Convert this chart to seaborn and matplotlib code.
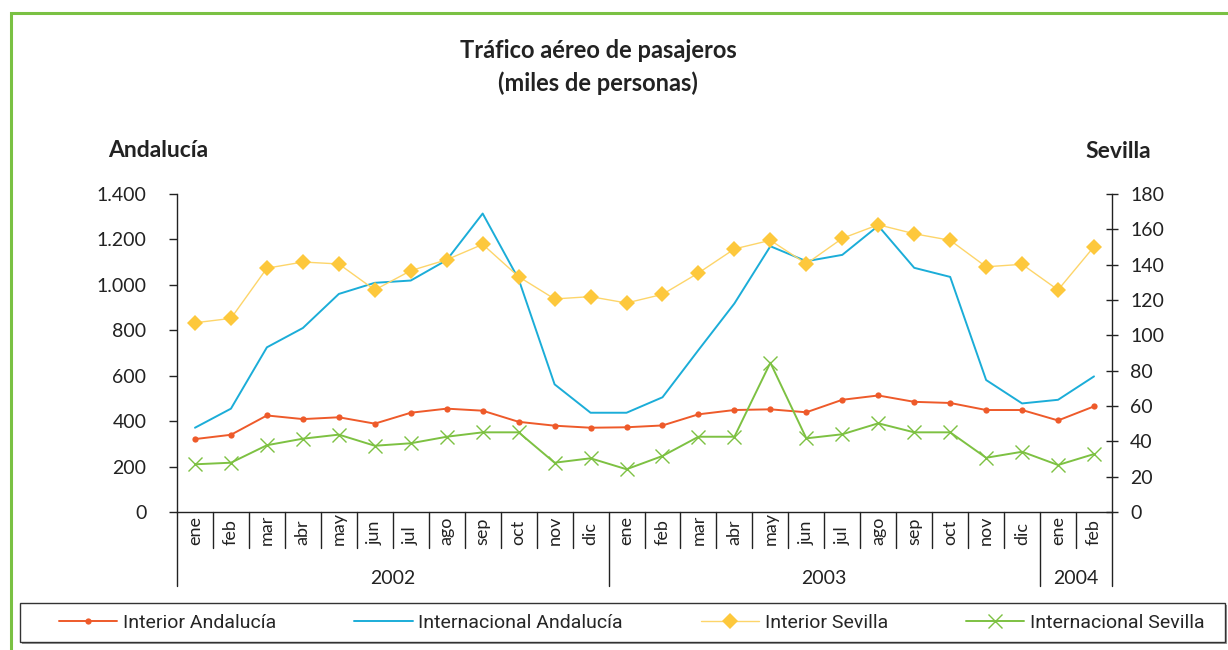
import numpy as np
import pandas as pd
import matplotlib
matplotlib.use('Agg')
import matplotlib.pyplot as plt
import seaborn as sns
from matplotlib.patches import Rectangle
from matplotlib.lines import Line2D
from matplotlib.transforms import blended_transform_factory

## data
meses = ['ene', 'feb', 'mar', 'abr', 'may', 'jun', 'jul', 'ago', 'sep', 'oct', 'nov', 'dic',
         'ene', 'feb', 'mar', 'abr', 'may', 'jun', 'jul', 'ago', 'sep', 'oct', 'nov', 'dic',
         'ene', 'feb']
anios = ['2002', '2003', '2004']
meses_por_anio = [12, 12, 2]

# left axis (Andalucía)
interior_andalucia = [321, 340, 425, 409, 417, 389, 437, 455, 446, 397, 380, 371,
                      373, 381, 430, 449, 452, 439, 494, 513, 485, 480, 449, 449,
                      403, 465]
internacional_andalucia = [371, 455, 725, 810, 960, 1009, 1019, 1109, 1314, 1025, 562, 437,
                           437, 505, 713, 918, 1170, 1104, 1132, 1260, 1075, 1035, 581, 478,
                           494, 597]
# right axis (Sevilla)
interior_sevilla = [107.1, 109.6, 138.0, 141.5, 140.4, 125.7, 136.6, 142.8, 151.5, 133.2, 120.6, 121.9,
                    118.3, 123.2, 135.3, 148.9, 153.8, 140.5, 154.9, 162.6, 157.5, 153.8, 138.8, 140.2,
                    125.7, 150.2]
internacional_sevilla = [27.0, 27.9, 37.8, 41.5, 43.8, 37.5, 38.9, 42.6, 45.1, 45.1, 27.9, 30.4,
                         24.2, 31.7, 42.6, 42.6, 84.5, 41.7, 44.0, 50.2, 45.1, 45.1, 30.7, 34.1,
                         26.6, 32.8]

df = pd.DataFrame({
    'idx': np.arange(len(meses)),
    'mes': meses,
    'Interior Andalucía': interior_andalucia,
    'Internacional Andalucía': internacional_andalucia,
    'Interior Sevilla': interior_sevilla,
    'Internacional Sevilla': internacional_sevilla,
})

sns.set_theme(style='white')
plt.rcParams['font.family'] = ['Lato', 'DejaVu Sans']
plt.rcParams['axes.linewidth'] = 1.0

W, H = 1228, 650
fig = plt.figure(figsize=(W / 100, H / 100), dpi=100)
ax = fig.add_axes([177 / W, 1 - 512 / H, (1112 - 177) / W, (512 - 194) / H])
ax2 = ax.twinx()

c_int_and = '#ee5a2a'
c_inter_and = '#1badd8'
c_int_sev = '#fdd56a'
c_int_sev_m = '#fdc83c'
c_inter_sev = '#7dc142'

sns.lineplot(data=df, x='idx', y='Interior Andalucía', ax=ax, color=c_int_and, lw=1.4,
             marker='o', markersize=4.5, markeredgewidth=0)
sns.lineplot(data=df, x='idx', y='Internacional Andalucía', ax=ax, color=c_inter_and, lw=1.4)
sns.lineplot(data=df, x='idx', y='Interior Sevilla', ax=ax2, color=c_int_sev, lw=1.0,
             marker='D', markersize=8.5, markerfacecolor=c_int_sev_m, markeredgewidth=0)
sns.lineplot(data=df, x='idx', y='Internacional Sevilla', ax=ax2, color=c_inter_sev, lw=1.4,
             marker='x', markersize=10, markeredgewidth=1.0, markeredgecolor=c_inter_sev)

n = len(meses)
ax.set_xlim(-0.5, n - 0.5)
ax.set_ylim(0, 1400)
ax2.set_ylim(0, 180)
ax.set_xticks([])
ax2.set_xticks([])
ax.set_xlabel('')
ax.set_ylabel('')
ax2.set_ylabel('')

lt = list(range(0, 1401, 200))
ax.set_yticks(lt)
ax.set_yticklabels([f'{v:,}'.replace(',', '.') for v in lt], fontsize=14, color='#222')
rt = list(range(0, 181, 20))
ax2.set_yticks(rt)
ax2.set_yticklabels([str(v) for v in rt], fontsize=14, color='#222')
ax.tick_params(axis='y', direction='out', length=6, width=1, pad=16, colors='#222')
ax2.tick_params(axis='y', direction='inout', length=8, width=1, pad=9, colors='#222')

for s in ['top', 'right']:
    ax.spines[s].set_visible(False)
for s in ['top', 'left', 'bottom']:
    ax2.spines[s].set_visible(False)
for s in ['left', 'bottom']:
    ax.spines[s].set_color('#222')
ax2.spines['right'].set_color('#222')
ax.grid(False)
ax2.grid(False)

# category separators and labels under the axis
trans = blended_transform_factory(ax.transData, ax.transAxes)
limites = np.cumsum([0] + meses_por_anio)
for i in range(n + 1):
    x = i - 0.5
    depth = -(586 - 512) / 318 if i in limites else -(548 - 512) / 318
    ax.plot([x, x], [0, depth], transform=trans, color='#222', lw=1.0, clip_on=False)
for i, m in enumerate(meses):
    ax.text(i, -(545 - 512) / 318, m, transform=trans, rotation=90, ha='center', va='bottom',
            fontsize=13, color='#222')
for k, a in enumerate(anios):
    centro = (limites[k] + limites[k + 1] - 1) / 2
    ax.text(centro, -(578 - 512) / 318, a, transform=trans, ha='center', va='center',
            fontsize=14, color='#222')

# titles
fig.text(598 / W, 1 - 67 / H, 'Tráfico aéreo de pasajeros\n(miles de personas)', ha='center',
         va='center', fontsize=17, fontweight='bold', linespacing=1.45, color='#222')
fig.text(108 / W, 1 - 150 / H, 'Andalucía', ha='left', va='center', fontsize=16.5,
         fontweight='bold', color='#222')
fig.text(1151 / W, 1 - 152 / H, 'Sevilla', ha='right', va='center', fontsize=16.5,
         fontweight='bold', color='#222')

# legend
for a in (ax, ax2):
    if a.get_legend() is not None:
        a.get_legend().remove()
handles = [
    Line2D([], [], color=c_int_and, lw=1.4, marker='o', markersize=4.5, markeredgewidth=0),
    Line2D([], [], color=c_inter_and, lw=1.4),
    Line2D([], [], color=c_int_sev, lw=1.0, marker='D', markersize=8.5,
           markerfacecolor=c_int_sev_m, markeredgewidth=0),
    Line2D([], [], color=c_inter_sev, lw=1.4, marker='x', markersize=10, markeredgewidth=1.0),
]
labels = ['Interior Andalucía', 'Internacional Andalucía', 'Interior Sevilla', 'Internacional Sevilla']
fig.legend(handles, labels, loc='center', bbox_to_anchor=(632 / W, 1 - 623 / H), ncol=4,
           frameon=False, handlelength=3.0, handletextpad=0.3, columnspacing=4.0,
           prop={'family': ['Liberation Sans Narrow', 'Roboto', 'DejaVu Sans'], 'size': 14})

# legend box with shadow
fig.patches.append(Rectangle((22 / W, 1 - 644 / H), (1227 - 22) / W, 39 / H, transform=fig.transFigure,
                             facecolor='#999', edgecolor='none', zorder=0))
fig.patches.append(Rectangle((20 / W, 1 - 642 / H), (1225 - 20) / W, 39 / H, transform=fig.transFigure,
                             facecolor='white', edgecolor='#333', lw=1.0, zorder=0.5))

# green frame
fig.patches.append(Rectangle((11 / W, -0.1), 1.2, 1.1 - 13 / H, transform=fig.transFigure,
                             fill=False, edgecolor='#7ac143', lw=2.2, zorder=1))

fig.savefig('out.png', dpi=100)
